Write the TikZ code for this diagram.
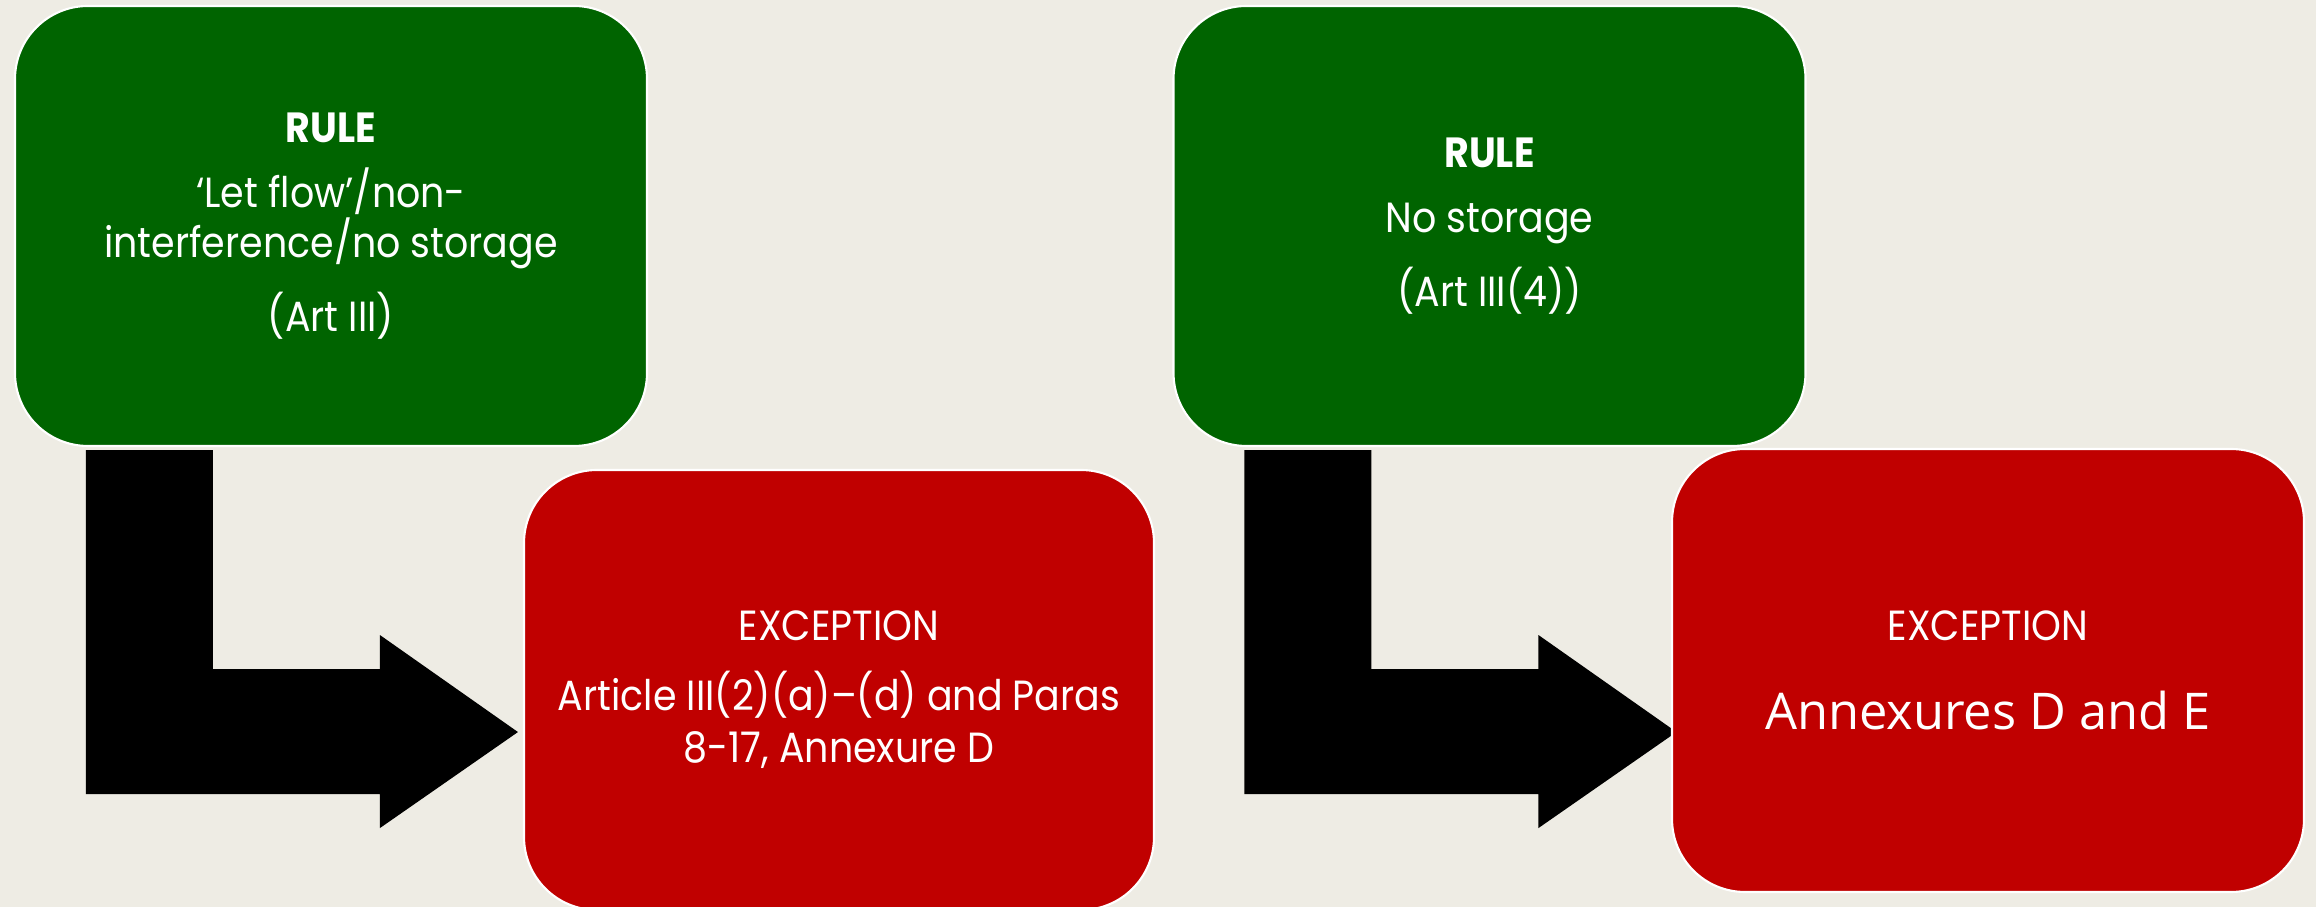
\documentclass[tikz,border=0pt]{standalone}
\usepackage{fontspec}
\setmainfont{Poppins}[FakeStretch=0.9]
\newfontfamily\annexfont{Open Sans}
\definecolor{bg}{RGB}{238,236,228}
\definecolor{rulegreen}{RGB}{0,100,0}
\definecolor{excred}{RGB}{192,0,0}
\tikzset{rl/.style = {rectangle, rounded corners=7.3mm, minimum width=63.2mm, minimum height=44mm, inner sep=0pt,
                      fill=rulegreen, draw=white, line width=0.6pt, text=white, align=center,
                      font=\fontsize{12}{13.1}\selectfont},
         ex/.style = {rl, fill=excred, font=\fontsize{12}{14.8}\selectfont}}
% bent block arrow hanging under a rule box
\newcommand{\bentarrow}[1]{%
  \fill[black] ([shift={(0.72,-0.03)}]#1.south west) -- ++(1.27,0) -- ++(0,-2.19) -- ++(1.67,0) -- ++(0,0.34)
    -- ++(1.38,-0.97) -- ++(-1.38,-0.96) -- ++(0,0.34) -- ++(-2.94,0) -- cycle;}

\begin{document}
\begin{tikzpicture}
    \fill[bg] (0,0) rectangle (23.16,9.07);
    \useasboundingbox (0,0) rectangle (23.16,9.07);
    \node[rl] (rule1) at (3.31,6.81) {\textbf{RULE}\\[5.4pt] ‘Let flow’/non-\\ interference/no storage\\[5.4pt] (Art III)};
    \node[rl] (rule2) at (14.895,6.81) {\textbf{RULE}\\[5.4pt] No storage\\[5.4pt] (Art III(4))};
    \bentarrow{rule1}
    \bentarrow{rule2}
    \node[ex, minimum width=63mm] (exc1) at (8.39,2.17) {EXCEPTION\\[5.1pt] Article III(2)(a)–(d) and Paras\\ 8-17, Annexure D};
    \node[ex, minimum height=44.3mm] (exc2) at (19.88,2.365) {EXCEPTION\\[10.4pt] {\annexfont\fontsize{14.4}{17}\selectfont Annexures D and E}};
\end{tikzpicture}
\end{document}
